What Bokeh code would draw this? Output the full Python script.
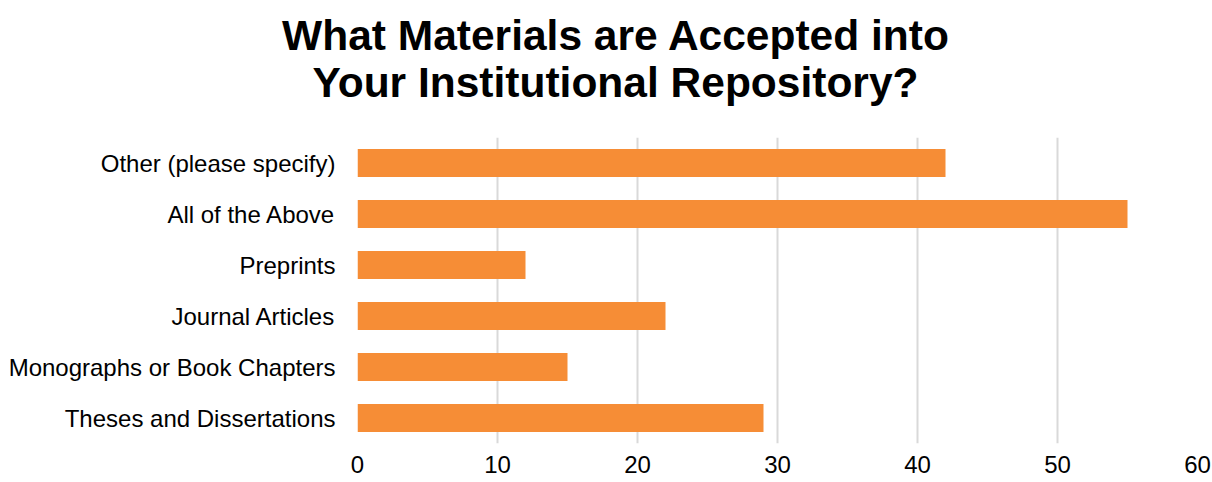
from bokeh.plotting import figure
from bokeh.models import Range1d, FactorRange, FixedTicker, ColumnDataSource, Div
from bokeh.layouts import column
from bokeh.embed import file_html
from bokeh.resources import INLINE

categories = ["Other (please specify)", "All of the Above", "Preprints",
              "Journal Articles", "Monographs or Book Chapters", "Theses and Dissertations"]
counts = [42, 55, 12, 22, 15, 29]
x_ticks = [0, 10, 20, 30, 40, 50, 60]
title_lines = ["What Materials are Accepted into", "Your Institutional Repository?"]

BAR = "#F68D36"
FONT = "Liberation Sans"
W = 1212
TITLE_H = 128
MAIN_H = 354
FRAME_L, FRAME_R = 357, 1197

# ---- title (two centred lines above the chart) ----
title_html = (
    f'<div style="width:{W}px;height:{TITLE_H}px;box-sizing:border-box;'
    f'padding:12px 0 0 19px;margin:0;text-align:center;color:#000000;'
    f"font-family:'{FONT}';font-weight:bold;font-size:42.5px;line-height:47px;"
    f'white-space:nowrap;">' + "<br>".join(title_lines) + "</div>"
)
title = Div(text=title_html, width=W, height=TITLE_H, margin=0)

# ---- main chart ----
src = ColumnDataSource(dict(cat=categories, val=counts))

p = figure(width=W, height=MAIN_H, output_backend="svg", toolbar_location=None,
           y_range=FactorRange(factors=list(reversed(categories)), range_padding=0),
           x_range=Range1d(0, 60), title_location=None,
           min_border_left=FRAME_L, min_border_right=W - FRAME_R,
           min_border_top=9, min_border_bottom=39)

p.hbar(y="cat", right="val", left=0, height=0.55, source=src,
       fill_color=BAR, line_color=None)

p.outline_line_color = None
p.xgrid.grid_line_color = "#d9d9d9"
p.xgrid.grid_line_width = 2
p.ygrid.grid_line_color = None
p.xaxis.ticker = FixedTicker(ticks=x_ticks)

for ax in (p.xaxis[0], p.yaxis[0]):
    ax.axis_line_color = None
    ax.major_tick_line_color = None
    ax.minor_tick_line_color = None
    ax.major_tick_out = 0
    ax.major_tick_in = 0
    ax.minor_tick_out = 0
    ax.major_label_text_font = FONT
    ax.major_label_text_font_size = "24px"
    ax.major_label_text_color = "#000000"

p.yaxis.major_label_standoff = 22
p.xaxis.major_label_standoff = 12

layout = column(title, p, spacing=0)
open("out.html", "w").write(file_html(layout, INLINE))
